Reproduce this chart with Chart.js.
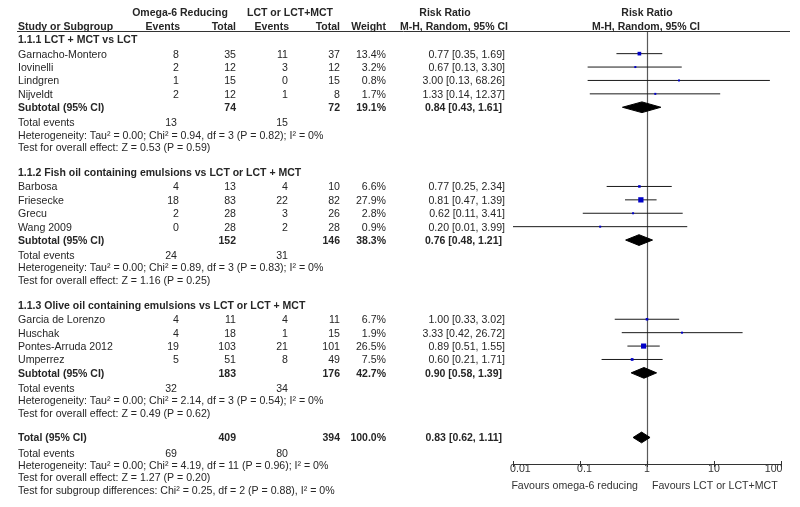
<!DOCTYPE html>
<html>
<head>
<meta charset="utf-8">
<script src="https://cdn.jsdelivr.net/npm/chart.js@4.4.1/dist/chart.umd.min.js"></script>
<style>
  html, body { margin: 0; padding: 0; background: #fff; }
  canvas { display: block; }
</style>
</head>
<body>
<canvas id="forest" width="800" height="507"></canvas>
<script>
// ---- data ----
const groupNames = [
  '1.1.1 LCT + MCT vs LCT',
  '1.1.2 Fish oil containing emulsions vs LCT or LCT + MCT',
  '1.1.3 Olive oil containing emulsions vs LCT or LCT + MCT'
];
const studies = ['Garnacho-Montero', 'Iovinelli', 'Lindgren', 'Nijveldt',
  'Barbosa', 'Friesecke', 'Grecu', 'Wang 2009',
  'Garcia de Lorenzo', 'Huschak', 'Pontes-Arruda 2012', 'Umperrez'];
const studyGroup = [0, 0, 0, 0, 1, 1, 1, 1, 2, 2, 2, 2];
const expEvents = [8, 2, 1, 2, 4, 18, 2, 0, 4, 4, 19, 5];
const expTotal = [35, 12, 15, 12, 13, 83, 28, 28, 11, 18, 103, 51];
const ctlEvents = [11, 3, 0, 1, 4, 22, 3, 2, 4, 1, 21, 8];
const ctlTotal = [37, 12, 15, 8, 10, 82, 26, 28, 11, 15, 101, 49];
const weights = [13.4, 3.2, 0.8, 1.7, 6.6, 27.9, 2.8, 0.9, 6.7, 1.9, 26.5, 7.5];
const rr = [0.77, 0.67, 3.00, 1.33, 0.77, 0.81, 0.62, 0.20, 1.00, 3.33, 0.89, 0.60];
const rrLow = [0.35, 0.13, 0.13, 0.14, 0.25, 0.47, 0.11, 0.01, 0.33, 0.42, 0.51, 0.21];
const rrHigh = [1.69, 3.30, 68.26, 12.37, 2.34, 1.39, 3.41, 3.99, 3.02, 26.72, 1.55, 1.71];

// subtotals per group
const subExpTotal = [74, 152, 183];
const subCtlTotal = [72, 146, 176];
const subWeight = [19.1, 38.3, 42.7];
const subRR = [0.84, 0.76, 0.90];
const subLow = [0.43, 0.48, 0.58];
const subHigh = [1.61, 1.21, 1.39];
const subExpEvents = [13, 24, 32];
const subCtlEvents = [15, 31, 34];
const subHet = [
  'Heterogeneity: Tau\u00b2 = 0.00; Chi\u00b2 = 0.94, df = 3 (P = 0.82); I\u00b2 = 0%',
  'Heterogeneity: Tau\u00b2 = 0.00; Chi\u00b2 = 0.89, df = 3 (P = 0.83); I\u00b2 = 0%',
  'Heterogeneity: Tau\u00b2 = 0.00; Chi\u00b2 = 2.14, df = 3 (P = 0.54); I\u00b2 = 0%'
];
const subTest = [
  'Test for overall effect: Z = 0.53 (P = 0.59)',
  'Test for overall effect: Z = 1.16 (P = 0.25)',
  'Test for overall effect: Z = 0.49 (P = 0.62)'
];

// overall
const totalExpTotal = 409, totalCtlTotal = 394, totalWeight = 100.0;
const totalRR = 0.83, totalLow = 0.62, totalHigh = 1.11;
const totalExpEvents = 69, totalCtlEvents = 80;
const totalHet = 'Heterogeneity: Tau\u00b2 = 0.00; Chi\u00b2 = 4.19, df = 11 (P = 0.96); I\u00b2 = 0%';
const totalTest = 'Test for overall effect: Z = 1.27 (P = 0.20)';
const subgroupTest = 'Test for subgroup differences: Chi\u00b2 = 0.25, df = 2 (P = 0.88), I\u00b2 = 0%';

const axisTicks = [0.01, 0.1, 1, 10, 100];
const axisTickLabels = ['0.01', '0.1', '1', '10', '100'];
const favoursLeft = 'Favours omega-6 reducing';
const favoursRight = 'Favours LCT or LCT+MCT';

// ---- row layout (units = text lines) ----
const studyRow = [], groupRow = [], subRow = [], eventsRow = [], hetRow = [], testRow = [];
let pos = 0;
groupNames.forEach((g, gi) => {
  groupRow.push(pos); pos += 1.09;
  studyGroup.forEach((sg, i) => {
    if (sg === gi) { studyRow[i] = pos; pos += 1; }
  });
  subRow.push(pos); pos += 1.13;
  eventsRow.push(pos); pos += 0.92;
  hetRow.push(pos); pos += 0.92;
  testRow.push(pos); pos += 1.85;
});
const totalRow = pos;
const totalEventsRow = totalRow + 1.13;
const totalHetRow = totalEventsRow + 0.92;
const totalTestRow = totalHetRow + 0.92;
const subgroupRow = totalTestRow + 0.92;

const FONT = '"Liberation Sans", Arial, Helvetica, sans-serif';
const TEXT = '#262626';

function fmtRR(v, lo, hi) {
  return v.toFixed(2) + ' [' + lo.toFixed(2) + ', ' + hi.toFixed(2) + ']';
}

// diamond drawn as a closed line through the scales
function diamond(lo, est, hi, r) {
  return {
    data: [{x: lo, y: r}, {x: est, y: r - 0.4}, {x: hi, y: r}, {x: est, y: r + 0.4}, {x: lo, y: r}],
    showLine: true, fill: 'shape', backgroundColor: '#000', borderColor: '#000',
    borderWidth: 1, pointRadius: 0, order: 1
  };
}

const ciSets = studies.map((s, i) => ({
  data: [{x: rrLow[i], y: studyRow[i]}, {x: rrHigh[i], y: studyRow[i]}],
  showLine: true, borderColor: '#1a1a1a', borderWidth: 1, pointRadius: 0, order: 2
}));

const squareSet = {
  data: studies.map((s, i) => ({x: rr[i], y: studyRow[i]})),
  pointStyle: 'rect',
  pointRadius: weights.map(w => Math.max(2, Math.sqrt(w)) / Math.SQRT2),
  backgroundColor: '#0000c8', borderWidth: 0, order: 0
};

const diamondSets = subRR.map((v, i) => diamond(subLow[i], v, subHigh[i], subRow[i]));
diamondSets.push(diamond(totalLow, totalRR, totalHigh, totalRow));

// ---- table text, header line, null line ----
function put(ctx, s, px, py, align, bold) {
  ctx.font = bold ? 'bold 10.5px ' + FONT : '10.6px ' + FONT;
  ctx.textAlign = align;
  ctx.fillText(s, px, py);
}

const tablePlugin = {
  id: 'forestTable',
  beforeDatasetsDraw(chart) {
    const {ctx, chartArea, scales: {x}} = chart;
    const x1 = Math.round(x.getPixelForValue(1)) + 0.5;
    ctx.save();
    ctx.strokeStyle = '#5a5a5a';
    ctx.lineWidth = 1.2;
    ctx.beginPath();
    ctx.moveTo(x1, chartArea.top);
    ctx.lineTo(x1, chartArea.bottom);
    ctx.stroke();
    ctx.restore();
  },
  afterDraw(chart) {
    const {ctx, chartArea, scales: {x, y}} = chart;
    const Y = r => y.getPixelForValue(r) + 1;
    const cLabel = 18, cEv1 = 179, cTot1 = 236, cEv2 = 288, cTot2 = 340, cW = 386, cRR = 505;
    ctx.save();
    ctx.fillStyle = TEXT;
    ctx.textBaseline = 'middle';

    // header line
    ctx.strokeStyle = '#333';
    ctx.lineWidth = 1;
    ctx.beginPath();
    ctx.moveTo(17, chartArea.top + 0.5);
    ctx.lineTo(790, chartArea.top + 0.5);
    ctx.stroke();

    // headers
    put(ctx, 'Omega-6 Reducing', 180, Y(-2), 'center', true);
    put(ctx, 'LCT or LCT+MCT', 290, Y(-2), 'center', true);
    put(ctx, 'Risk Ratio', 445, Y(-2), 'center', true);
    put(ctx, 'Risk Ratio', x.getPixelForValue(1), Y(-2), 'center', true);
    put(ctx, 'Study or Subgroup', cLabel, Y(-1), 'left', true);
    put(ctx, 'Events', cEv1 + 1, Y(-1), 'right', true);
    put(ctx, 'Total', cTot1, Y(-1), 'right', true);
    put(ctx, 'Events', cEv2 + 1, Y(-1), 'right', true);
    put(ctx, 'Total', cTot2, Y(-1), 'right', true);
    put(ctx, 'Weight', cW, Y(-1), 'right', true);
    put(ctx, 'M-H, Random, 95% CI', 454, Y(-1), 'center', true);
    put(ctx, 'M-H, Random, 95% CI', x.getPixelForValue(1) - 1, Y(-1), 'center', true);

    groupNames.forEach((g, gi) => {
      put(ctx, g, cLabel, Y(groupRow[gi]), 'left', true);
      studies.forEach((s, i) => {
        if (studyGroup[i] !== gi) return;
        const py = Y(studyRow[i]);
        put(ctx, s, cLabel, py, 'left', false);
        put(ctx, String(expEvents[i]), cEv1, py, 'right', false);
        put(ctx, String(expTotal[i]), cTot1, py, 'right', false);
        put(ctx, String(ctlEvents[i]), cEv2, py, 'right', false);
        put(ctx, String(ctlTotal[i]), cTot2, py, 'right', false);
        put(ctx, weights[i].toFixed(1) + '%', cW, py, 'right', false);
        put(ctx, fmtRR(rr[i], rrLow[i], rrHigh[i]), cRR, py, 'right', false);
      });
      const sy = Y(subRow[gi]);
      put(ctx, 'Subtotal (95% CI)', cLabel, sy, 'left', true);
      put(ctx, String(subExpTotal[gi]), cTot1, sy, 'right', true);
      put(ctx, String(subCtlTotal[gi]), cTot2, sy, 'right', true);
      put(ctx, subWeight[gi].toFixed(1) + '%', cW, sy, 'right', true);
      put(ctx, fmtRR(subRR[gi], subLow[gi], subHigh[gi]), cRR - 3, sy, 'right', true);
      const ey = Y(eventsRow[gi]);
      put(ctx, 'Total events', cLabel, ey, 'left', false);
      put(ctx, String(subExpEvents[gi]), cEv1 - 2, ey, 'right', false);
      put(ctx, String(subCtlEvents[gi]), cEv2, ey, 'right', false);
      put(ctx, subHet[gi], cLabel, Y(hetRow[gi]), 'left', false);
      put(ctx, subTest[gi], cLabel, Y(testRow[gi]), 'left', false);
    });

    const ty = Y(totalRow);
    put(ctx, 'Total (95% CI)', cLabel, ty, 'left', true);
    put(ctx, String(totalExpTotal), cTot1, ty, 'right', true);
    put(ctx, String(totalCtlTotal), cTot2, ty, 'right', true);
    put(ctx, totalWeight.toFixed(1) + '%', cW, ty, 'right', true);
    put(ctx, fmtRR(totalRR, totalLow, totalHigh), cRR - 3, ty, 'right', true);
    const tey = Y(totalEventsRow);
    put(ctx, 'Total events', cLabel, tey, 'left', false);
    put(ctx, String(totalExpEvents), cEv1 - 2, tey, 'right', false);
    put(ctx, String(totalCtlEvents), cEv2, tey, 'right', false);
    put(ctx, totalHet, cLabel, Y(totalHetRow), 'left', false);
    put(ctx, totalTest, cLabel, Y(totalTestRow), 'left', false);
    put(ctx, subgroupTest, cLabel, Y(subgroupRow), 'left', false);

    // upper half of the axis tick marks
    ctx.strokeStyle = '#333';
    ctx.lineWidth = 1;
    axisTicks.forEach(v => {
      const px = Math.round(x.getPixelForValue(v)) + 0.5;
      ctx.beginPath();
      ctx.moveTo(px, chartArea.bottom - 3);
      ctx.lineTo(px, chartArea.bottom);
      ctx.stroke();
    });

    // favours labels
    const x1 = x.getPixelForValue(1);
    ctx.fillStyle = '#333';
    put(ctx, favoursLeft, x1 - 9, chartArea.bottom + 22, 'right', false);
    put(ctx, favoursRight, x1 + 5, chartArea.bottom + 22, 'left', false);
    ctx.restore();
  }
};

// first labels sit right of their tick, last one left of it (as in the original)
const tickPad = ['     ', '   ', '', '', ''];
const tickPadEnd = ['', '', '', '', '     '];

const ctx = document.getElementById('forest').getContext('2d');
const chart = new Chart(ctx, {
  type: 'scatter',
  data: { datasets: [squareSet, ...diamondSets, ...ciSets] },
  options: {
    responsive: false,
    animation: false,
    layout: { padding: { left: 513, right: 19, top: 31, bottom: 23 } },
    plugins: { legend: { display: false }, tooltip: { enabled: false } },
    scales: {
      x: {
        type: 'logarithmic',
        min: 0.01,
        max: 100,
        afterBuildTicks: scale => { scale.ticks = axisTicks.map(v => ({ value: v })); },
        afterFit: scale => { scale.height = 20; },
        ticks: {
          callback: (v, i) => tickPad[i] + axisTickLabels[i] + tickPadEnd[i],
          autoSkip: false,
          maxRotation: 0,
          padding: -4,
          color: '#333',
          font: { family: FONT, size: 10.6 }
        },
        grid: { drawOnChartArea: false, drawTicks: true, tickLength: 3, color: '#333' },
        border: { display: true, color: '#333', width: 1 }
      },
      y: {
        type: 'linear',
        reverse: true,
        min: -0.6,
        max: 31.71,
        display: false
      }
    }
  },
  plugins: [tablePlugin]
});
</script>
</body>
</html>
